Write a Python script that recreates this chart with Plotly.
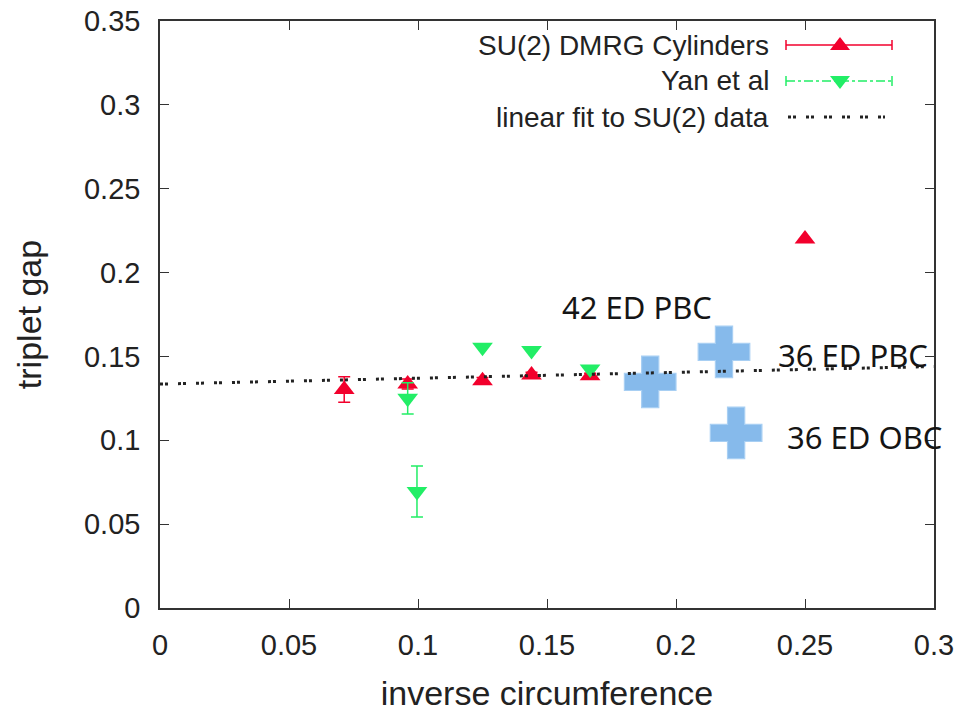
import plotly.graph_objects as go

# ---------------- data ----------------
dmrg_x = [0.0714, 0.096, 0.125, 0.144, 0.1667, 0.25]
dmrg_y = [0.1303, 0.1336, 0.1355, 0.139, 0.1385, 0.220]
dmrg_err = [0.0076, 0.003, 0.002, 0.0015, 0.0015, 0.0]

yan_x = [0.096, 0.0996, 0.125, 0.144, 0.1667]
yan_y = [0.125, 0.0695, 0.1555, 0.1535, 0.1425]
yan_err = [0.0093, 0.0152, 0.0, 0.0, 0.0]

fit_x = [0.0, 0.3]
fit_y = [0.1335, 0.144]

ed_x = [0.190, 0.2186, 0.2233]
ed_y = [0.1348, 0.1527, 0.1044]
ed_labels = ["42 ED PBC", "36 ED PBC", "36 ED OBC"]

x_ticks = [0, 0.05, 0.1, 0.15, 0.2, 0.25, 0.3]
x_ticklabels = ["0", "0.05", "0.1", "0.15", "0.2", "0.25", "0.3"]
y_ticks = [0, 0.05, 0.1, 0.15, 0.2, 0.25, 0.3, 0.35]
y_ticklabels = ["0", "0.05", "0.1", "0.15", "0.2", "0.25", "0.3", "0.35"]

legend_names = ["SU(2) DMRG Cylinders", "Yan et al", "linear fit to SU(2) data"]

RED = "#f2002c"
GREEN = "#22ee66"
DOT = "#222222"
AX = "#333333"

W, H = 964, 712
L, R, T, B = 160, 30, 21, 104
PW, PH = W - L - R, H - T - B

fig = go.Figure()

# ED crosses
fig.add_trace(go.Scatter(
    x=ed_x, y=ed_y, mode="markers", showlegend=False, cliponaxis=False,
    marker=dict(symbol="cross", size=43, color="#86baeb",
                line=dict(color="#a8cff3", width=1.2)),
))

fig.add_trace(go.Scatter(
    x=dmrg_x, y=dmrg_y, mode="markers", name=legend_names[0], showlegend=False,
    marker=dict(symbol="triangle-up", size=18, color=RED),
    error_y=dict(type="data", array=dmrg_err, color=RED, thickness=1.5, width=6),
))
fig.add_trace(go.Scatter(
    x=yan_x, y=yan_y, mode="markers", name=legend_names[1], showlegend=False,
    marker=dict(symbol="triangle-down", size=18, color=GREEN),
    error_y=dict(type="data", array=yan_err, color=GREEN, thickness=1.5, width=6),
))
fig.add_trace(go.Scatter(
    x=fit_x, y=fit_y, mode="lines", name=legend_names[2], showlegend=False,
    line=dict(color=DOT, width=3, dash="3px,2px,3px,10px"),
))

# ED labels
shifts = [(-90, 75), (52, -3), (49, -4)]
for xv, yv, lab, (dx, dy) in zip(ed_x, ed_y, ed_labels, shifts):
    fig.add_annotation(x=xv, y=yv, text=lab, showarrow=False, xanchor="left",
                       yanchor="middle", xshift=dx, yshift=dy,
                       font=dict(family="Noto Sans", size=31, color="#151515"))

# ---------- manual legend (text left, glyph right, as in gnuplot) ----------
def px(xp):
    return (xp - L) / PW

def py(yp):
    return (H - B - yp) / PH

rows = [45, 81, 117]
x0, x1, xm = 786, 892, 840
text_right = 771
styles = [(RED, "solid", 1.5), (GREEN, "dashdot", 1.5), (DOT, "3px,2px,3px,10px", 3)]
for i, (name, yrow, (col, dash, lw)) in enumerate(zip(legend_names, rows, styles)):
    fig.add_annotation(xref="paper", yref="paper", x=px(text_right), y=py(yrow),
                       text=name, showarrow=False, xanchor="right", yanchor="middle",
                       font=dict(family="Liberation Sans", size=28, color="#222222"))
    xe = x1 if i < 2 else 885
    xs = x0 if i < 2 else 788
    fig.add_shape(type="line", xref="paper", yref="paper",
                  x0=px(xs), x1=px(xe), y0=py(yrow), y1=py(yrow),
                  line=dict(color=col, width=lw, dash=dash))
    if i < 2:
        for xc in (x0, x1):
            fig.add_shape(type="line", xref="paper", yref="paper",
                          x0=px(xc), x1=px(xc), y0=py(yrow - 5), y1=py(yrow + 5),
                          line=dict(color=col, width=1.5))
        hw = 10
        if i == 0:
            pts = [(xm - hw, yrow + 5), (xm + hw, yrow + 5), (xm, yrow - 8)]
        else:
            pts = [(xm - hw, yrow - 5), (xm + hw, yrow - 5), (xm, yrow + 8)]
        path = "M {} {} L {} {} L {} {} Z".format(
            px(pts[0][0]), py(pts[0][1]), px(pts[1][0]), py(pts[1][1]),
            px(pts[2][0]), py(pts[2][1]))
        fig.add_shape(type="path", xref="paper", yref="paper", path=path,
                      fillcolor=col, line=dict(color=col, width=0))

axis_common = dict(
    showgrid=False, zeroline=False, showline=True, linecolor=AX, linewidth=1.5,
    mirror="ticks", ticks="inside", ticklen=9, tickwidth=1.2, tickcolor=AX,
    tickfont=dict(family="Liberation Sans", size=29, color="#222222"),
)

fig.update_layout(
    width=W, height=H,
    margin=dict(l=L, r=R, t=T, b=B, autoexpand=False),
    paper_bgcolor="white", plot_bgcolor="white",
    showlegend=False,
    xaxis=dict(range=[0, 0.3], tickvals=x_ticks, ticktext=x_ticklabels,
               ticklabelstandoff=10,
               title=dict(text="inverse circumference", standoff=26,
                          font=dict(family="Liberation Sans", size=34, color="#222222")),
               **axis_common),
    yaxis=dict(range=[0, 0.35], tickvals=y_ticks, ticktext=y_ticklabels,
               ticklabelstandoff=12,
               title=dict(text="triplet gap", standoff=32,
                          font=dict(family="Liberation Sans", size=34, color="#222222")),
               **axis_common),
)

fig.write_html("out.html")
